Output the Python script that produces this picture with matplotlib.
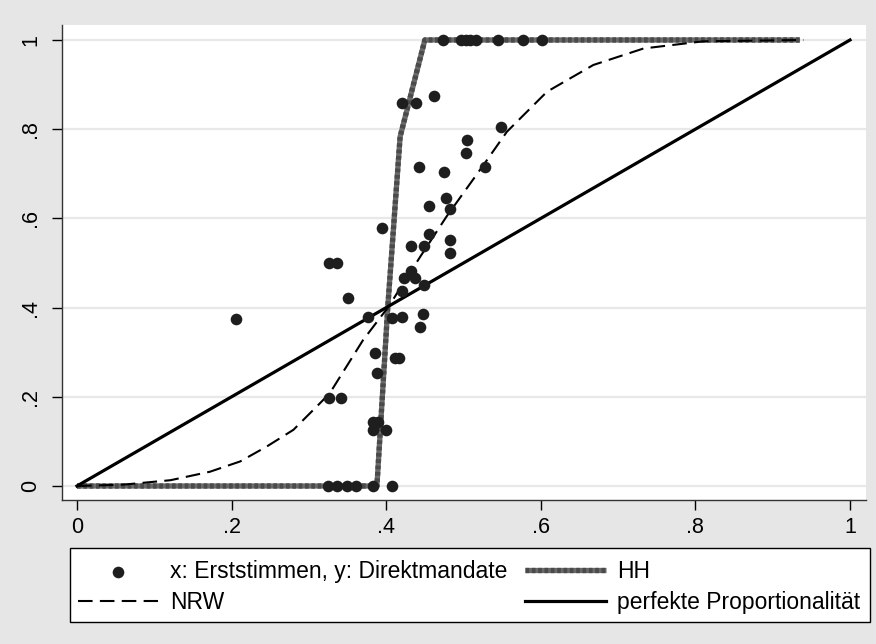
import matplotlib
matplotlib.use('Agg')
import matplotlib.pyplot as plt
from matplotlib.patches import Rectangle
from matplotlib.legend_handler import HandlerTuple

plt.rcParams['font.family'] = ['Liberation Sans', 'DejaVu Sans']

# scatter: x = Erststimmen, y = Direktmandate
pts_x = [0.206, 0.325, 0.336, 0.349, 0.361, 0.383, 0.407,
         0.383, 0.390, 0.383, 0.400, 0.326, 0.342, 0.388, 0.385, 0.411, 0.416,
         0.444, 0.376, 0.408, 0.421, 0.448, 0.351, 0.420, 0.449, 0.423, 0.437,
         0.432, 0.326, 0.336, 0.483, 0.432, 0.449, 0.483, 0.456, 0.395,
         0.477, 0.456, 0.483, 0.442, 0.475, 0.528, 0.503, 0.504, 0.549,
         0.421, 0.439, 0.462,
         0.473, 0.497, 0.503, 0.508, 0.516, 0.545, 0.577, 0.601]
pts_y = [0.375, 0.0, 0.0, 0.0, 0.0, 0.0, 0.0,
         0.144, 0.144, 0.126, 0.126, 0.197, 0.197, 0.254, 0.298, 0.288, 0.288,
         0.357, 0.380, 0.376, 0.380, 0.385, 0.422, 0.438, 0.451, 0.466, 0.466,
         0.481, 0.501, 0.501, 0.522, 0.537, 0.537, 0.552, 0.565, 0.578,
         0.645, 0.628, 0.620, 0.716, 0.703, 0.715, 0.746, 0.776, 0.804,
         0.859, 0.859, 0.874,
         1.0, 1.0, 1.0, 1.0, 1.0, 1.0, 1.0, 1.0]

# HH curve
hh_x = [0.0, 0.388, 0.402, 0.418, 0.450, 0.935]
hh_y = [0.0, 0.0, 0.400, 0.783, 1.0, 1.0]

# NRW curve
nrw_x = [0.0, 0.060, 0.121, 0.172, 0.211, 0.245, 0.280, 0.314, 0.327, 0.370,
         0.403, 0.444, 0.478, 0.526, 0.556, 0.608, 0.668, 0.733, 0.810, 0.940]
nrw_y = [0.0, 0.003, 0.013, 0.032, 0.055, 0.088, 0.126, 0.185, 0.208, 0.327,
         0.402, 0.514, 0.604, 0.720, 0.794, 0.884, 0.944, 0.981, 0.997, 1.0]

# perfekte Proportionalitaet
prop_x = [0.0, 1.0]
prop_y = [0.0, 1.0]

ticks = [0, 0.2, 0.4, 0.6, 0.8, 1]
tick_labels = ['0', '.2', '.4', '.6', '.8', '1']

fig = plt.figure(figsize=(8.76, 6.44), dpi=100, facecolor='#e6e6e6')
ax = fig.add_axes([62 / 876, 1 - 500 / 644, 804 / 876, 475 / 644])
ax.set_facecolor('white')

ax.set_xlim(-0.0194, 1.0207)
ax.set_ylim(-0.0314, 1.0336)

for t in ticks:
    ax.axhline(t, color='#e8e8e8', lw=1.6, zorder=0)

sc = ax.scatter(pts_x, pts_y, s=70, color='#1e1e1e', linewidths=0, zorder=4)
# HH: grey beaded line (solid base + darker beads)
hh_base, = ax.plot(hh_x, hh_y, color='#6a6a6a', lw=3.8, zorder=3,
                   solid_capstyle='butt')
hh, = ax.plot(hh_x, hh_y, color='#4a4a4a', lw=3.8, ls=(0, (0.7, 0.5)),
              zorder=3)
nrw, = ax.plot(nrw_x, nrw_y, color='black', lw=1.5, ls=(0, (7, 3.5)),
               zorder=3)
prop, = ax.plot(prop_x, prop_y, color='black', lw=2.3, zorder=3)

ax.set_xticks(ticks)
ax.set_xticklabels(tick_labels)
ax.set_yticks(ticks)
ax.set_yticklabels(tick_labels, rotation=90, va='center')
ax.tick_params(direction='out', length=7, width=1, labelsize=15.5, pad=5,
               colors='black')
ax.tick_params(axis='y', pad=8)
for s in ['top', 'right']:
    ax.spines[s].set_visible(False)
for s in ['left', 'bottom']:
    ax.spines[s].set_color('#333333')
    ax.spines[s].set_linewidth(1)

# legend box drawn separately, text clipped at its right edge
box = Rectangle((70 / 876, 1 - 622 / 644), 800 / 876, 74 / 644,
                transform=fig.transFigure, facecolor='white',
                edgecolor='black', lw=1, zorder=1)
fig.patches.append(box)

leg = fig.legend([sc, nrw, (hh_base, hh), prop],
                 ['x: Erststimmen, y: Direktmandate', 'NRW', 'HH',
                  'perfekte Proportionalität'],
                 handler_map={tuple: HandlerTuple(ndivide=1, pad=0)},
                 ncol=2, loc='upper left',
                 bbox_to_anchor=(78 / 876, 1 - 560 / 644),
                 fontsize=16.5, handlelength=3.5, handletextpad=0.5,
                 frameon=False, borderaxespad=0, borderpad=0,
                 labelspacing=0.35, columnspacing=0.8)
for t in leg.get_texts():
    t.set_clip_path(box)

fig.savefig('out.png', dpi=100, facecolor=fig.get_facecolor())
